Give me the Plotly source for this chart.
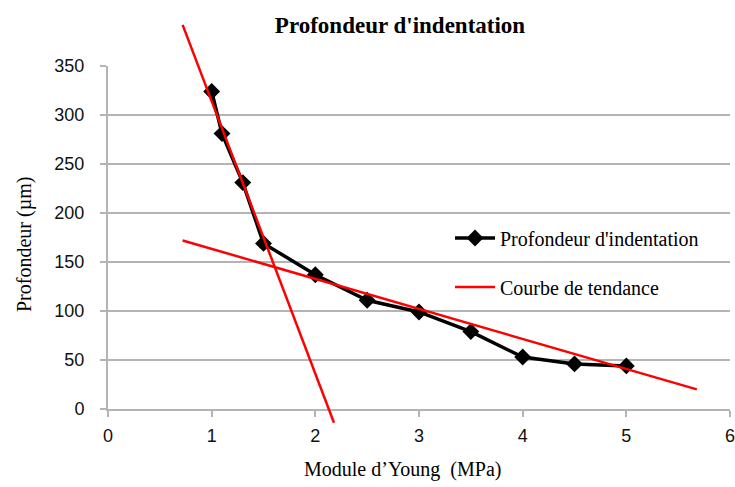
import plotly.graph_objects as go

# Measured indentation depth against Young's modulus
module_young = [1.0, 1.1, 1.3, 1.5, 2.0, 2.5, 3.0, 3.5, 4.0, 4.5, 5.0]
profondeur = [324, 281, 231, 169, 137, 111, 99, 79, 53, 46, 44]

# Two straight trend segments (steep zone, then shallow zone)
tendance_raide_x = [0.72, 2.18]
tendance_raide_y = [392, -14]
tendance_douce_x = [0.72, 5.68]
tendance_douce_y = [172, 20]

x_ticks = [0, 1, 2, 3, 4, 5, 6]
y_ticks = [0, 50, 100, 150, 200, 250, 300, 350]

W, H = 735, 487
# plot area in pixels
PX_L, PX_R = 108, 730
PX_T, PX_B = 66, 409
X_MIN, X_MAX = 0, 6
Y_MIN, Y_MAX = 0, 350

sx = (PX_R - PX_L) / (X_MAX - X_MIN)
sy = (PX_B - PX_T) / (Y_MAX - Y_MIN)

# full-figure overlay axes sharing the same scale, so trend lines are not clipped
x2_range = [X_MIN - PX_L / sx, X_MIN + (W - PX_L) / sx]
y2_range = [Y_MIN - (H - PX_B) / sy, Y_MIN + PX_B / sy]

grid = "#b4b4b4"
sans = "Liberation Sans"
serif = "Liberation Serif"

fig = go.Figure()

fig.add_trace(go.Scatter(
    x=module_young, y=profondeur, mode="lines+markers",
    name="Profondeur d'indentation",
    line=dict(color="black", width=3.5),
    marker=dict(symbol="diamond", size=13, color="black"),
    cliponaxis=False, xaxis="x", yaxis="y", legend="legend",
))

fig.add_trace(go.Scatter(
    x=tendance_raide_x + [None] + tendance_douce_x,
    y=tendance_raide_y + [None] + tendance_douce_y,
    mode="lines", name="Courbe de tendance",
    line=dict(color="#ff0000", width=2.5),
    xaxis="x2", yaxis="y2", legend="legend2",
))

axis_common = dict(
    showline=True, linecolor=grid, linewidth=2,
    ticks="outside", tickcolor=grid, ticklen=6, tickwidth=1.5,
    tickfont=dict(family=sans, size=18, color="#111"),
    zeroline=False, automargin=False, ticklabeloverflow="allow",
)

legend_style = dict(xanchor="left", yanchor="middle", itemwidth=40,
                    bgcolor="rgba(0,0,0,0)",
                    font=dict(family=serif, size=20, color="black"))

fig.update_layout(
    width=W, height=H,
    margin=dict(l=0, r=0, t=0, b=0),
    paper_bgcolor="white", plot_bgcolor="rgba(0,0,0,0)",
    showlegend=True,
    xaxis=dict(domain=[PX_L / W, PX_R / W], range=[X_MIN, X_MAX],
               tickvals=x_ticks, showgrid=False, anchor="y",
               ticklabelstandoff=3, **axis_common),
    yaxis=dict(domain=[1 - PX_B / H, 1 - PX_T / H], range=[Y_MIN, Y_MAX],
               tickvals=y_ticks, showgrid=True, gridcolor=grid, gridwidth=2,
               anchor="x", ticklabelstandoff=12, **axis_common),
    xaxis2=dict(domain=[0, 1], range=x2_range, visible=False, anchor="y2"),
    yaxis2=dict(domain=[0, 1], range=y2_range, visible=False, anchor="x2"),
    legend=dict(x=450 / W, y=1 - 238 / H, **legend_style),
    legend2=dict(x=450 / W, y=1 - 287 / H, **legend_style),
    title=dict(text="<b>Profondeur d'indentation</b>",
               x=400 / W, xanchor="center", xref="paper",
               y=1 - 25 / H, yanchor="middle", yref="container",
               font=dict(family=serif, size=23, color="black")),
    annotations=[
        dict(text="Module d\u2019Young  (MPa)", xref="paper", yref="paper",
             x=402 / W, y=1 - 469 / H, xanchor="center", yanchor="middle",
             showarrow=False,
             font=dict(family=serif, size=20, color="black")),
        dict(text="Profondeur (\u00b5m)", xref="paper", yref="paper",
             x=25 / W, y=1 - 245 / H, xanchor="center", yanchor="middle",
             showarrow=False, textangle=-90,
             font=dict(family=serif, size=20, color="black")),
    ],
)

fig.write_html("out.html")
